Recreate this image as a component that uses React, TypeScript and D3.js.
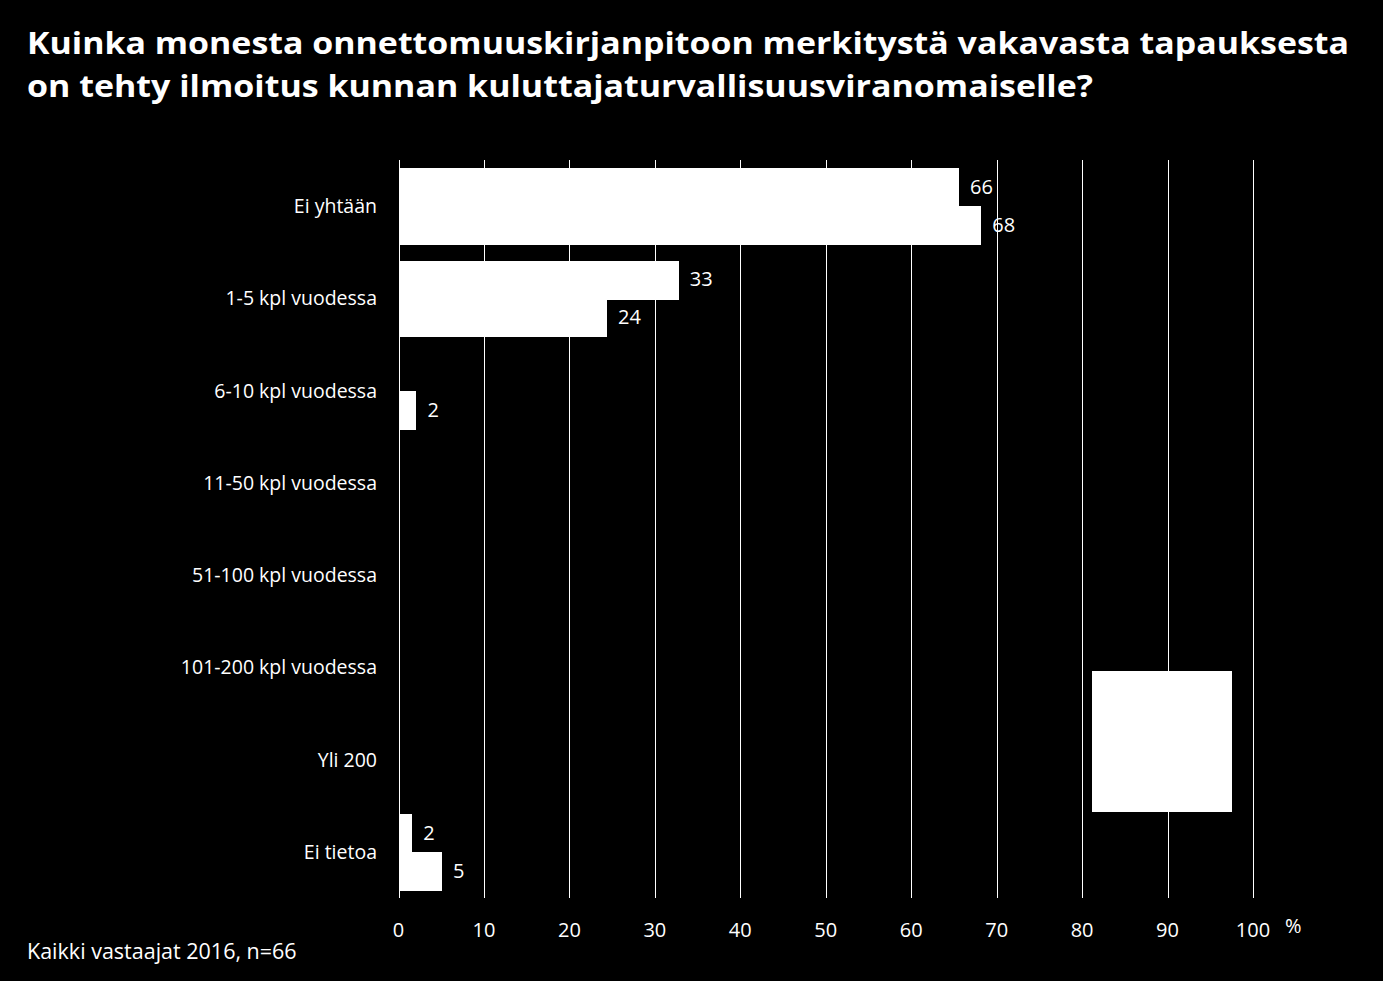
import React, { useEffect, useRef } from "react";
import * as d3 from "d3";

// data
const categories = [
  "Ei yhtään",
  "1-5 kpl vuodessa",
  "6-10 kpl vuodessa",
  "11-50 kpl vuodessa",
  "51-100 kpl vuodessa",
  "101-200 kpl vuodessa",
  "Yli 200",
  "Ei tietoa",
];
const seriesA = [65.6, 32.8, 0, 0, 0, 0, 0, 1.6];
const seriesB = [68.2, 24.4, 2.1, 0, 0, 0, 0, 5.1];
const xTicks = [0, 10, 20, 30, 40, 50, 60, 70, 80, 90, 100];

const W = 1383;
const H = 981;
const FONT = "'Open Sans', 'DejaVu Sans', sans-serif";

function App() {
  const svgRef: any = useRef(null);

  useEffect(() => {
    document.body.style.margin = "0";
    document.body.style.background = "#000";
    draw();
  }, []);

  const draw = () => {
    const svg = d3.select(svgRef.current);
    svg.selectAll("*").remove();

    svg.append("rect").attr("width", W).attr("height", H).attr("fill", "#000");

    // title
    const title = svg
      .append("text")
      .attr("fill", "#fff")
      .attr("font-family", FONT)
      .attr("font-weight", "bold")
      .attr("font-size", 31);
    title
      .append("tspan")
      .attr("x", 27)
      .attr("y", 54)
      .attr("textLength", 1322)
      .attr("lengthAdjust", "spacingAndGlyphs")
      .text("Kuinka monesta onnettomuuskirjanpitoon merkitystä vakavasta tapauksesta");
    title
      .append("tspan")
      .attr("x", 27)
      .attr("y", 97)
      .attr("textLength", 1066)
      .attr("lengthAdjust", "spacingAndGlyphs")
      .text("on tehty ilmoitus kunnan kuluttajaturvallisuusviranomaiselle?");

    const x = d3.scaleLinear().domain([0, 100]).range([398.5, 1253]);
    const y = d3
      .scaleBand()
      .domain(categories)
      .range([160, 898])
      .paddingInner(0.18)
      .paddingOuter(0.09);
    const yAll = d3.scaleBand().domain(categories).range([160, 898]);
    const sub = d3
      .scaleBand()
      .domain(["a", "b"])
      .range([0, y.bandwidth()]);

    // gridlines
    svg
      .append("g")
      .selectAll("line")
      .data(xTicks)
      .join("line")
      .attr("x1", (d) => Math.round(x(d)) + 0.5)
      .attr("x2", (d) => Math.round(x(d)) + 0.5)
      .attr("y1", 160)
      .attr("y2", 898)
      .attr("stroke", "#fff")
      .attr("stroke-width", 1);

    // tick labels
    svg
      .append("g")
      .selectAll("text")
      .data(xTicks)
      .join("text")
      .attr("x", (d) => x(d))
      .attr("y", 937)
      .attr("text-anchor", "middle")
      .attr("fill", "#fff")
      .attr("font-family", FONT)
      .attr("font-size", 20)
      .text((d) => d);

    svg
      .append("text")
      .attr("x", 1285)
      .attr("y", 933)
      .attr("fill", "#fff")
      .attr("font-family", FONT)
      .attr("font-size", 20)
      .text("%");

    // category labels
    svg
      .append("g")
      .selectAll("text")
      .data(categories)
      .join("text")
      .attr("x", 377)
      .attr("y", (d) => (yAll(d) as number) + yAll.bandwidth() / 2 + 7)
      .attr("text-anchor", "end")
      .attr("fill", "#fff")
      .attr("font-family", FONT)
      .attr("font-size", 19.5)
      .text((d) => d);

    // bars
    const series = [
      { key: "a", values: seriesA },
      { key: "b", values: seriesB },
    ];
    series.forEach((s) => {
      const g = svg.append("g");
      const rows = categories
        .map((c, i) => ({ c, v: s.values[i] }))
        .filter((d) => d.v > 0);
      g.selectAll("rect")
        .data(rows)
        .join("rect")
        .attr("x", x(0))
        .attr("y", (d) => Math.round((y(d.c) as number) + (sub(s.key) as number)))
        .attr("width", (d) => x(d.v) - x(0))
        .attr("height", Math.round(sub.bandwidth()) + 1)
        .attr("fill", "#fff")
        .attr("shape-rendering", "crispEdges");
      g.selectAll("text")
        .data(rows)
        .join("text")
        .attr("x", (d) => x(d.v) + 11)
        .attr("y", (d) => (y(d.c) as number) + (sub(s.key) as number) + sub.bandwidth() / 2 + 7)
        .attr("fill", "#fff")
        .attr("font-family", FONT)
        .attr("font-size", 20)
        .text((d) => d3.format(".0f")(d.v));
    });

    // legend box (white)
    svg
      .append("rect")
      .attr("x", 1092)
      .attr("y", 671)
      .attr("width", 140)
      .attr("height", 141)
      .attr("fill", "#fff");

    // footnote
    svg
      .append("text")
      .attr("x", 27)
      .attr("y", 959)
      .attr("fill", "#fff")
      .attr("font-family", FONT)
      .attr("font-size", 21.5)
      .text("Kaikki vastaajat 2016, n=66");
  };

  return <svg ref={svgRef} width={W} height={H} style={{ display: "block" }} />;
}

export default App;
